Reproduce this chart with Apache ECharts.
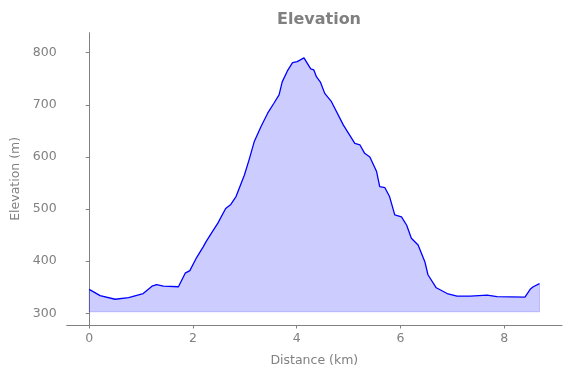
<!DOCTYPE html>
<html>
<head>
<meta charset="utf-8">
<script src="https://cdn.jsdelivr.net/npm/echarts@6/dist/echarts.min.js"></script>
<style>
  html, body { margin: 0; padding: 0; background: #fff; }
  #elevationChart { width: 571px; height: 378px; }
</style>
</head>
<body>
<div id="elevationChart"></div>
<script>
// distance along the track (km)
const distanceKm = [
  0.00, 0.21, 0.50, 0.76, 1.04, 1.21, 1.30, 1.43, 1.72, 1.85,
  1.94, 2.07, 2.20, 2.25, 2.35, 2.48, 2.63, 2.73, 2.83, 2.99,
  3.08, 3.18, 3.31, 3.44, 3.56, 3.66, 3.72, 3.82, 3.92, 4.01,
  4.14, 4.27, 4.33, 4.38, 4.46, 4.54, 4.67, 4.90, 5.12, 5.22,
  5.31, 5.41, 5.54, 5.60, 5.70, 5.79, 5.89, 6.02, 6.12, 6.21,
  6.34, 6.47, 6.53, 6.69, 6.90, 7.09, 7.35, 7.67, 7.86, 8.40,
  8.50, 8.56, 8.68
]
// elevation (m)
const elevationM = [
  346, 334, 327, 330, 338, 352, 355, 352, 351, 377,
  382, 407, 428, 437, 453, 473, 501, 509, 524, 565,
  594, 629, 658, 684, 703, 719, 744, 765, 781, 783,
  790, 769, 767, 754, 743, 722, 706, 661, 626, 623,
  607, 600, 572, 543, 541, 524, 489, 485, 469, 444,
  431, 399, 374, 349, 338, 333, 333, 335, 332, 331,
  346, 351, 357
]
const fillBase = 303
const xTicks = [0, 2, 4, 6, 8]
const yTicks = [300, 400, 500, 600, 700, 800]

const grey = '#808080'
const lineData = distanceKm.map((d, i) => [d, elevationM[i]])
const lastKm = distanceKm[distanceKm.length - 1]
const edgeData = [
  [distanceKm[0], elevationM[0]],
  [distanceKm[0], fillBase],
  [lastKm, fillBase],
  [lastKm, elevationM[elevationM.length - 1]],
]

const chart = echarts.init(document.getElementById('elevationChart'))
chart.setOption({
  animation: false,
  title: {
    text: 'Elevation',
    left: 272,
    top: 7,
    textStyle: { color: grey, fontSize: 16, fontWeight: 'bold', fontFamily: 'DejaVu Sans' },
  },
  grid: { left: 66.7, right: 9, top: 32.7, bottom: 53 },
  xAxis: {
    type: 'value',
    min: -0.434,
    max: 9.114,
    name: 'Distance (km)',
    nameLocation: 'middle',
    nameGap: 29,
    nameTextStyle: { color: grey, fontSize: 12.5, fontFamily: 'DejaVu Sans' },
    axisLine: { show: true, lineStyle: { color: grey, width: 1 } },
    axisTick: { show: true, length: 3.5, customValues: xTicks, lineStyle: { color: grey } },
    axisLabel: { customValues: xTicks, color: grey, fontSize: 12.5, fontFamily: 'DejaVu Sans', margin: 7 },
    splitLine: { show: false },
  },
  yAxis: {
    type: 'value',
    min: 277.6,
    max: 838.4,
    name: 'Elevation (m)',
    nameLocation: 'middle',
    nameGap: 43,
    nameTextStyle: { color: grey, fontSize: 12.5, fontFamily: 'DejaVu Sans' },
    axisLine: { show: true, lineStyle: { color: grey, width: 1 } },
    axisTick: { show: true, length: 3.5, customValues: yTicks, lineStyle: { color: grey } },
    axisLabel: { customValues: yTicks, color: grey, fontSize: 12.5, fontFamily: 'DejaVu Sans', margin: 10 },
    splitLine: { show: false },
  },
  series: [
    {
      type: 'line',
      data: lineData,
      symbol: 'none',
      smooth: false,
      lineStyle: { color: '#0000ff', width: 1.3 },
      areaStyle: { color: 'rgba(0,0,255,0.2)', origin: fillBase, opacity: 1 },
      z: 3,
    },
    {
      type: 'line',
      data: edgeData,
      symbol: 'none',
      lineStyle: { color: 'rgba(0,0,255,0.2)', width: 1 },
      z: 2,
    },
  ],
})
</script>
</body>
</html>
